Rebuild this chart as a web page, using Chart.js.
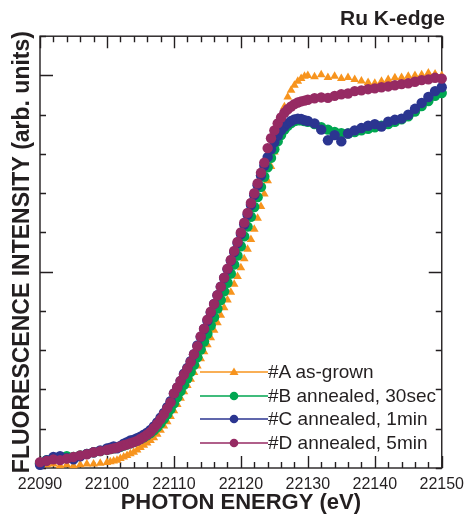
<!DOCTYPE html>
<html>
<head>
<meta charset="utf-8">
<script src="https://cdn.jsdelivr.net/npm/chart.js@4.4.1/dist/chart.umd.min.js"></script>
<style>
  html, body { margin: 0; padding: 0; background: #fff; }
  #wrap { position: relative; width: 471px; height: 520px; }
  #legend {
    position: absolute; left: 200px; top: 360px;
    font-family: "Liberation Sans", Arial, sans-serif; font-size: 19px; color: #231f20;
  }
  .row { display: flex; align-items: center; height: 23.7px; line-height: 23.7px; white-space: nowrap; }
  .row svg { display: block; }
</style>
</head>
<body>
<div id="wrap">
  <canvas id="chart" width="471" height="520"></canvas>
  <div id="legend"></div>
</div>
<script>
// photon energy grid (eV)
const energy = [
  22090, 22091, 22092, 22093, 22094, 22095, 22096, 22097, 22098, 22099,
  22100, 22100.5, 22101, 22101.5, 22102, 22102.5, 22103, 22103.5, 22104, 22104.5,
  22105, 22105.5, 22106, 22106.5, 22107, 22107.5, 22108, 22108.5, 22109, 22109.5,
  22110, 22110.5, 22111, 22111.5, 22112, 22112.5, 22113, 22113.5, 22114, 22114.5,
  22115, 22115.5, 22116, 22116.5, 22117, 22117.5, 22118, 22118.5, 22119, 22119.5,
  22120, 22120.5, 22121, 22121.5, 22122, 22122.5, 22123, 22123.5, 22124, 22124.5,
  22125, 22125.5, 22126, 22126.5, 22127, 22127.5, 22128, 22128.5, 22129, 22129.5,
  22130, 22131, 22132, 22133, 22134, 22135, 22136, 22137, 22138, 22139,
  22140, 22141, 22142, 22143, 22144, 22145, 22146, 22147, 22148, 22149, 22150
]

// #A as-grown
const sampleA = [
  0.010, 0.008, 0.010, 0.006, 0.008, 0.006, 0.008, 0.010, 0.010, 0.012,
  0.014, 0.016, 0.018, 0.020, 0.024, 0.028, 0.032, 0.036, 0.040, 0.046,
  0.052, 0.058, 0.064, 0.070, 0.077, 0.086, 0.096, 0.107, 0.118, 0.131,
  0.146, 0.162, 0.178, 0.194, 0.210, 0.226, 0.243, 0.260, 0.278, 0.296,
  0.314, 0.332, 0.351, 0.370, 0.389, 0.408, 0.428, 0.448, 0.468, 0.488,
  0.510, 0.533, 0.557, 0.582, 0.608, 0.636, 0.666, 0.698, 0.732, 0.768,
  0.805, 0.845, 0.885, 0.920, 0.945, 0.962, 0.975, 0.985, 0.992, 0.998,
  1.000, 0.997, 1.002, 0.995, 0.998, 0.992, 0.995, 0.990, 0.986, 0.982,
  0.980, 0.985, 0.990, 0.994, 0.995, 0.998, 1.000, 1.002, 1.006, 1.004, 1.000
]

// #B annealed, 30sec
const sampleB = [
  0.012, 0.020, 0.025, 0.028, 0.030, 0.028, 0.032, 0.036, 0.040, 0.043,
  0.046, 0.048, 0.050, 0.052, 0.054, 0.057, 0.060, 0.063, 0.066, 0.070,
  0.074, 0.078, 0.083, 0.089, 0.096, 0.104, 0.114, 0.125, 0.137, 0.150,
  0.165, 0.180, 0.196, 0.212, 0.228, 0.245, 0.263, 0.282, 0.302, 0.322,
  0.342, 0.363, 0.384, 0.406, 0.428, 0.450, 0.472, 0.495, 0.518, 0.541,
  0.565, 0.590, 0.615, 0.640, 0.665, 0.690, 0.716, 0.742, 0.766, 0.790,
  0.812, 0.832, 0.848, 0.862, 0.872, 0.879, 0.884, 0.886, 0.886, 0.884,
  0.882, 0.876, 0.868, 0.862, 0.856, 0.853, 0.852, 0.856, 0.860, 0.864,
  0.868, 0.872, 0.876, 0.882, 0.888, 0.896, 0.908, 0.922, 0.935, 0.948, 0.955
]

// #C annealed, 1min
const sampleC = [
  0.008, 0.020, 0.028, 0.030, 0.025, 0.022, 0.030, 0.036, 0.040, 0.045,
  0.050, 0.052, 0.055, 0.050, 0.056, 0.062, 0.066, 0.070, 0.072, 0.076,
  0.080, 0.085, 0.090, 0.097, 0.106, 0.116, 0.128, 0.140, 0.155, 0.170,
  0.190, 0.205, 0.222, 0.240, 0.255, 0.272, 0.290, 0.312, 0.334, 0.354,
  0.375, 0.396, 0.418, 0.440, 0.462, 0.484, 0.506, 0.528, 0.550, 0.573,
  0.596, 0.620, 0.645, 0.670, 0.695, 0.720, 0.745, 0.770, 0.792, 0.812,
  0.830, 0.846, 0.860, 0.870, 0.878, 0.884, 0.888, 0.890, 0.889, 0.886,
  0.884, 0.878, 0.862, 0.835, 0.848, 0.832, 0.852, 0.860, 0.866, 0.872,
  0.876, 0.870, 0.882, 0.887, 0.890, 0.900, 0.915, 0.930, 0.945, 0.960, 0.970
]

// #D annealed, 5min
const sampleD = [
  0.015, 0.018, 0.022, 0.020, 0.024, 0.028, 0.032, 0.035, 0.040, 0.043,
  0.046, 0.048, 0.050, 0.052, 0.055, 0.058, 0.060, 0.063, 0.066, 0.069,
  0.074, 0.079, 0.085, 0.092, 0.102, 0.112, 0.124, 0.137, 0.152, 0.167,
  0.190, 0.205, 0.222, 0.238, 0.253, 0.270, 0.290, 0.310, 0.335, 0.355,
  0.378, 0.398, 0.418, 0.440, 0.462, 0.485, 0.508, 0.530, 0.553, 0.576,
  0.600, 0.625, 0.650, 0.675, 0.700, 0.725, 0.752, 0.778, 0.815, 0.840,
  0.860, 0.878, 0.893, 0.905, 0.914, 0.921, 0.927, 0.931, 0.934, 0.936,
  0.938, 0.942, 0.944, 0.943, 0.948, 0.952, 0.954, 0.960, 0.962, 0.965,
  0.967, 0.970, 0.972, 0.975, 0.978, 0.980, 0.984, 0.988, 0.990, 0.994, 0.992
]

const seriesNames = ["#A as-grown", "#B annealed, 30sec", "#C annealed, 1min", "#D annealed, 5min"]
const seriesColors = ["#F7941E", "#00A651", "#2B3590", "#962A63"]
const seriesShapes = ["triangle", "circle", "circle", "circle"]
const seriesValues = [sampleA, sampleB, sampleC, sampleD]

const xMin = 22090
const xMax = 22150
const yMax = 1.1

const ink = "#231f20"
Chart.defaults.font.family = "'Liberation Sans', Arial, sans-serif"
Chart.defaults.color = ink

// box frame with inward ticks, like the original plot
const frameTicks = {
  id: "frameTicks",
  beforeDatasetsDraw(chart) {
    const { ctx, chartArea: a, scales: { x, y } } = chart
    ctx.save()
    ctx.strokeStyle = ink
    ctx.lineWidth = 1.4
    ctx.strokeRect(a.left, a.top, a.right - a.left, a.bottom - a.top)
    ctx.beginPath()
    x.ticks.forEach((t) => {
      const px = Math.round(x.getPixelForValue(t.value)) + 0.5
      const len = t.value % 10 === 0 ? 12 : 6
      ctx.moveTo(px, a.bottom); ctx.lineTo(px, a.bottom - len)
      ctx.moveTo(px, a.top); ctx.lineTo(px, a.top + len)
    })
    y.ticks.forEach((t) => {
      const step = Math.round(t.value * 10)
      const py = Math.round(y.getPixelForValue(t.value)) + 0.5
      const len = step > 0 && step % 5 === 0 ? 13 : 6
      ctx.moveTo(a.left, py); ctx.lineTo(a.left + len, py)
      ctx.moveTo(a.right, py); ctx.lineTo(a.right - len, py)
    })
    ctx.stroke()
    ctx.restore()
  },
}

const chart = new Chart(document.getElementById("chart"), {
  type: "scatter",
  data: {
    datasets: seriesValues.map((vals, i) => ({
      label: seriesNames[i],
      data: energy.map((e, j) => ({ x: e, y: vals[j] })),
      backgroundColor: seriesColors[i],
      borderColor: seriesColors[i],
      pointStyle: seriesShapes[i],
      pointRadius: seriesShapes[i] === "triangle" ? 5 : 5.2,
      pointBorderWidth: 0,
      order: 4 - i,
      clip: 6,
    })),
  },
  options: {
    responsive: false,
    animation: false,
    layout: { padding: { left: 0, right: 26, top: 0, bottom: 0 } },
    plugins: {
      legend: { display: false },
      tooltip: { enabled: false },
      title: {
        display: true,
        text: "Ru K-edge",
        align: "end",
        color: ink,
        font: { size: 21, weight: "bold" },
        padding: { top: 7, bottom: 4 },
      },
    },
    scales: {
      x: {
        type: "linear",
        min: xMin,
        max: xMax,
        grid: { display: false, drawTicks: false },
        border: { display: false },
        ticks: {
          stepSize: 2,
          autoSkip: false,
          maxRotation: 0,
          padding: 7,
          color: ink,
          font: { size: 16 },
          callback: (v) => (v % 10 === 0 ? String(v) : ""),
        },
        title: {
          display: true,
          text: "PHOTON ENERGY (eV)",
          color: ink,
          font: { size: 22, weight: "bold" },
          padding: { top: 0, bottom: 4 },
        },
        afterFit: (scale) => { scale.height = 52 },
      },
      y: {
        min: 0,
        max: yMax,
        grid: { display: false, drawTicks: false },
        border: { display: false },
        ticks: { stepSize: 0.1, display: false },
        title: {
          display: true,
          text: "FLUORESCENCE INTENSITY (arb. units)",
          color: ink,
          font: { size: 23, weight: "bold" },
          padding: { top: 9, bottom: 0 },
        },
        afterFit: (scale) => { scale.width = 40 },
      },
    },
  },
  plugins: [frameTicks],
})

// legend inside the plot: a short line with the marker, then the name
const legendBox = document.getElementById("legend")
chart.data.datasets.forEach((ds) => {
  const row = document.createElement("div")
  row.className = "row"
  const mark = ds.pointStyle === "triangle"
    ? `<polygon points="34,7.5 38.5,15 29.5,15" fill="${ds.backgroundColor}"/>`
    : `<circle cx="34" cy="12" r="4.3" fill="${ds.backgroundColor}"/>`
  row.innerHTML =
    `<svg width="68" height="24"><line x1="0" y1="12" x2="68" y2="12" stroke="${ds.borderColor}" stroke-width="1.3"/>${mark}</svg>` +
    `<span>${ds.label}</span>`
  legendBox.appendChild(row)
})
</script>
</body>
</html>
